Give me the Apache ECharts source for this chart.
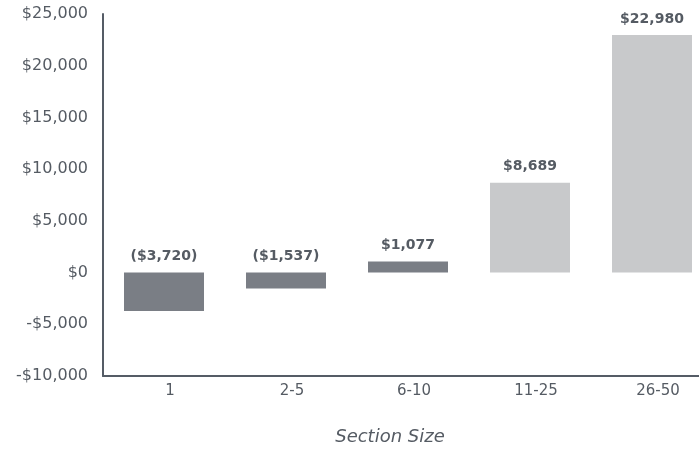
<!DOCTYPE html>
<html><head><meta charset="utf-8">
<script src="https://cdn.jsdelivr.net/npm/echarts@6/dist/echarts.min.js"></script>
<style>html,body{margin:0;padding:0;background:#fff;overflow:hidden}#c{width:713px;height:451px}</style>
</head><body><div id="c"></div>
<script>
const categories = ['1', '2-5', '6-10', '11-25', '26-50'];
const values = [-3720, -1537, 1077, 8689, 22980];
const barColors = ['#7a7e85', '#7a7e85', '#7a7e85', '#c8c9cb', '#c8c9cb'];
const yTicks = { min: -10000, max: 25000, interval: 5000 };
const xName = 'Section Size';

function money(v) {
  const s = '$' + Math.abs(v).toLocaleString('en-US');
  return v < 0 ? '-' + s : s;
}
function barLabel(v) {
  const s = '$' + Math.abs(v).toLocaleString('en-US');
  return v < 0 ? '(' + s + ')' : s;
}

const chart = echarts.init(document.getElementById('c'));
const font = 'DejaVu Sans, Verdana, sans-serif';
chart.setOption({
  animation: false,
  grid: { left: 103, right: 0, top: 14, bottom: 74, containLabel: false },
  xAxis: [{
    type: 'category', data: categories, position: 'bottom',
    axisLine: { show: false }, axisTick: { show: false },
    axisLabel: { color: '#555b63', fontSize: 15, fontFamily: font, margin: 8, padding: [0, 0, 0, 12] },
    name: xName, nameLocation: 'middle', nameGap: 52,
    nameTextStyle: { color: '#555b63', fontSize: 18, fontStyle: 'italic', fontFamily: font, padding: [0, 36, 0, 0] }
  }, {
    type: 'category', data: categories, position: 'bottom',
    axisLine: { show: true, onZero: true, lineStyle: { color: '#555c66', width: 2 } },
    axisTick: { show: false }, axisLabel: { show: false }
  }],
  yAxis: {
    type: 'value', min: yTicks.min, max: yTicks.max, interval: yTicks.interval,
    splitLine: { show: false },
    axisLine: { show: true, lineStyle: { color: '#555c66', width: 2 } },
    axisTick: { show: false },
    axisLabel: { color: '#555b63', fontSize: 16, fontFamily: font, margin: 15, formatter: money }
  },
  series: [{
    type: 'bar', xAxisIndex: 0, barWidth: 80,
    data: values.map((v, i) => ({
      value: v,
      itemStyle: { color: barColors[i] }
    })),
    label: {
      show: true, position: 'top', distance: 9,
      color: '#555b63', fontSize: 14, fontWeight: 'bold', fontFamily: font,
      formatter: p => barLabel(p.value)
    }
  }]
});
</script></body></html>
